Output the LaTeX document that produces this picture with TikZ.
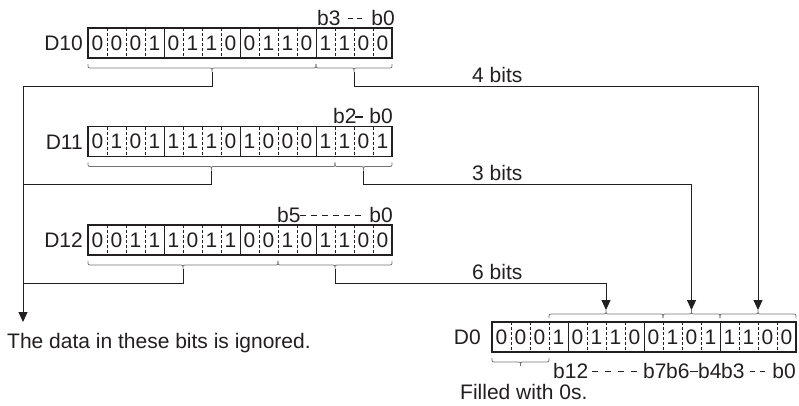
\documentclass[tikz,border=0pt]{standalone}
\usepackage{fontspec}
\setmainfont{Liberation Sans}
\usetikzlibrary{arrows.meta}
\definecolor{ink}{HTML}{231F20}
\newcommand\drawreg[4]{% #1 name, #2 left x, #3 top y, #4 digits
  \foreach \d [count=\i from 0] in {#4} {
    \node[dig] (#1-\i) at ({#2+19*\i+9.5},{#3+15}) {\d};
  }
  \foreach \i in {1,...,15} {
    \pgfmathtruncatemacro\m{mod(\i,4)}
    \ifnum\m=0
      \draw[sepsolid] ({#2+19*\i},#3) -- ++(0,30);
    \else
      \draw[sepdash] ({#2+19*\i},#3) -- ++(0,30);
    \fi
  }
  \node[regbox] (#1) at ({#2+152},{#3+15}) {};
}
\newcommand\bitbrace[5]{% #1 x1, #2 x2, #3 xt, #4 y0, #5 r (signed)
  \draw[brcst] (#1,#4) .. controls (#1,{#4+#5}) .. ({#1+abs(#5)},{#4+#5})
    -- ({#3-abs(#5)},{#4+#5}) .. controls (#3,{#4+#5}) .. (#3,{#4+2*#5})
    .. controls (#3,{#4+#5}) .. ({#3+abs(#5)},{#4+#5})
    -- ({#2-abs(#5)},{#4+#5}) .. controls (#2,{#4+#5}) .. (#2,#4);
}
\begin{document}
\begin{tikzpicture}[x=1pt,y=-1pt,
  dig/.style={font=\fontsize{21}{25}\selectfont, text=ink, inner sep=0pt},
  lbl/.style={font=\fontsize{21}{25}\selectfont, text=ink, inner sep=0pt},
  regbox/.style={draw=ink, line width=1.1pt, minimum width=304pt, minimum height=30pt, inner sep=0pt},
  sepsolid/.style={draw=ink, line width=0.9pt},
  sepdash/.style={draw=ink, line width=0.6pt, dash pattern=on 3pt off 2pt},
  brcst/.style={draw=black!55, line width=0.8pt},
  conn/.style={draw=ink, line width=1pt},
  arr/.style={-{Triangle[length=10pt,width=9pt]}},
  lead/.style={draw=ink, line width=1.3pt}
]
\useasboundingbox (0,0) rectangle (799,405);

% registers
\drawreg{D10}{88}{28}{0,0,0,1,0,1,1,0,0,1,1,0,1,1,0,0}
\drawreg{D11}{88}{126.5}{0,1,0,1,1,1,1,0,1,0,0,0,1,1,0,1}
\drawreg{D12}{88}{225}{0,0,1,1,1,0,1,1,0,0,1,0,1,1,0,0}
\drawreg{D0}{492}{322}{0,0,0,1,0,1,1,0,0,1,0,1,1,1,0,0}

% register names
\node[lbl, anchor=base east] (nD10) at (83,50.5) {D10};
\node[lbl, anchor=base east] (nD11) at (83,149) {D11};
\node[lbl, anchor=base east] (nD12) at (83,247.5) {D12};
\node[lbl, anchor=base east] (nD0) at (481,344.5) {D0};

% bit labels above source registers
\node[lbl, anchor=base west] (b3a) at (317,25) {b3};
\node[lbl, anchor=base east] (b0a) at (395,25) {b0};
\draw[lead, dash pattern=on 5pt off 4pt] (348,18.5) -- (362,18.5);
\node[lbl, anchor=base west] (b2b) at (333,123.5) {b2};
\node[lbl, anchor=base east] (b0b) at (393,123.5) {b0};
\draw[lead] (355,117) -- (363,117);
\node[lbl, anchor=base west] (b5c) at (277,222) {b5};
\node[lbl, anchor=base east] (b0c) at (393,222) {b0};
\draw[lead, dash pattern=on 6pt off 5pt] (300,215.5) -- (361,215.5);

% bit labels below D0
\node[lbl, anchor=base west] (b12d) at (553,378) {b12};
\draw[lead, dash pattern=on 6pt off 7pt] (592,371.5) -- (637,371.5);
\node[lbl, anchor=base west] (b7d) at (643,378) {b7};
\node[lbl, anchor=base west] (b6d) at (666,378) {b6};
\draw[lead] (690,371.5) -- (698,371.5);
\node[lbl, anchor=base west] (b4d) at (698,378) {b4};
\node[lbl, anchor=base west] (b3d) at (721,378) {b3};
\draw[lead, dash pattern=on 5pt off 5pt] (750,371.5) -- (765,371.5);
\node[lbl, anchor=base east] (b0d) at (796,378) {b0};

% braces
\bitbrace{88}{316}{212}{64}{4}
\bitbrace{316}{392}{354}{64}{4}
\bitbrace{88}{335}{211.5}{162.5}{4}
\bitbrace{335}{392}{363.5}{162.5}{4}
\bitbrace{88}{278}{183}{261}{4}
\bitbrace{278}{392}{335}{261}{4}
\bitbrace{549}{663}{606}{318}{-4}
\bitbrace{663}{720}{691.5}{318}{-4}
\bitbrace{720}{796}{758}{318}{-4}
\bitbrace{492}{549}{520.5}{358}{4}

% brace tips
\coordinate (t0a) at (212,72);
\coordinate (t0b) at (354,72);
\coordinate (t1a) at (211.5,170.5);
\coordinate (t1b) at (363.5,170.5);
\coordinate (t2a) at (183,269);
\coordinate (t2b) at (335,269);
\coordinate (u6) at (606,310);
\coordinate (u3) at (691.5,310);
\coordinate (u4) at (758,310);
\coordinate (L0) at (23,86);
\coordinate (L1) at (23,184.5);
\coordinate (L2) at (23,283);
\coordinate (Lend) at (23,322);

% connectors
\draw[conn] (t0a) |- (L0);
\draw[conn] (t1a) |- (L1);
\draw[conn] (t2a) |- (L2);
\draw[conn,arr] (L0) -- (Lend);
\draw[conn,arr] (t0b) -- ++(0,14) -| (u4);
\draw[conn,arr] (t1b) -- ++(0,14) -| (u3);
\draw[conn,arr] (t2b) -- ++(0,14) -| (u6);

% bit count labels
\node[lbl, anchor=base west] (n4) at (472,82) {4 bits};
\node[lbl, anchor=base west] (n3) at (472,180.5) {3 bits};
\node[lbl, anchor=base west] (n6) at (472,279) {6 bits};

% notes
\node[lbl, anchor=base west] (ign) at (7,348) {The data in these bits is ignored.};
\node[lbl, anchor=base west] (fill) at (460,399) {Filled with 0s.};
\end{tikzpicture}
\end{document}
